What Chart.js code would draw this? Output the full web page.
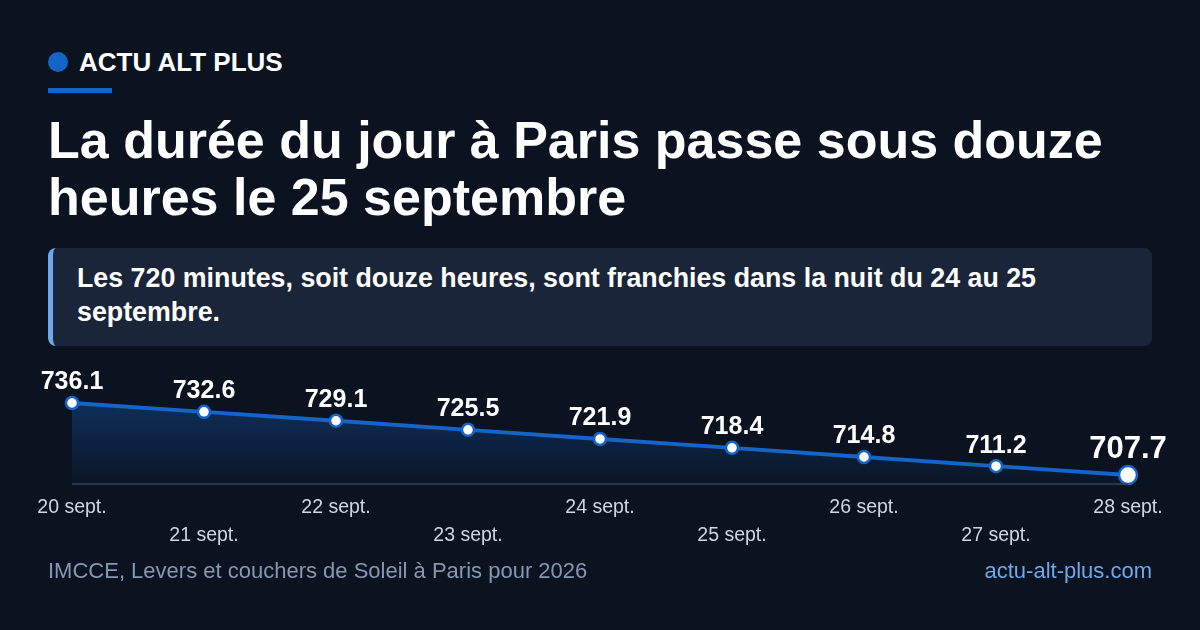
<!DOCTYPE html>
<html><head><meta charset="utf-8">
<script src="https://cdn.jsdelivr.net/npm/chart.js@4"></script>
<style>
body{margin:0;width:1200px;height:630px;background:#0b1320;font-family:"Liberation Sans",Arial,sans-serif;position:relative;overflow:hidden;color:#fff}
.brand{position:absolute;left:48px;top:48px;font-weight:bold;font-size:26px;display:flex;align-items:center;height:28px}
.brand i{display:inline-block;width:20px;height:20px;border-radius:50%;background:#1565c8;margin-right:11px}
.bar{position:absolute;left:48px;top:88px;width:64px;height:5px;background:#1565c8}
h1{position:absolute;left:48px;top:112px;margin:0;font-size:52px;line-height:57px;font-weight:bold;width:1110px}
.call{position:absolute;left:48px;top:248px;width:1104px;height:98px;background:#1a2539;border-radius:8px;border-left:5px solid #6fa8e8;box-sizing:border-box;padding:13px 60px 13px 24px;font-weight:bold;font-size:26.8px;line-height:34px}
.src{position:absolute;left:48px;top:558px;font-size:22px;color:#8797b0}
.site{position:absolute;right:48px;top:558px;font-size:22px;color:#6fa8e8}
#wrap{position:absolute;left:0;top:360px;width:1200px;height:200px}
</style></head><body>
<div class="brand"><i></i>ACTU ALT PLUS</div>
<div class="bar"></div>
<h1>La durée du jour à Paris passe sous douze heures le 25 septembre</h1>
<div class="call">Les 720 minutes, soit douze heures, sont franchies dans la nuit du 24 au 25 septembre.</div>
<div id="wrap"><canvas id="c"></canvas></div>
<div class="src">IMCCE, Levers et couchers de Soleil à Paris pour 2026</div>
<div class="site">actu-alt-plus.com</div>
<script>
const categories=["20 sept.","21 sept.","22 sept.","23 sept.","24 sept.","25 sept.","26 sept.","27 sept.","28 sept."];
const dayLength=[736.1,732.6,729.1,725.5,721.9,718.4,714.8,711.2,707.7];
const n=dayLength.length;
const overlay={id:'ov',afterDatasetsDraw(ch){
  const c=ch.ctx,a=ch.chartArea,m=ch.getDatasetMeta(0);
  c.save();
  c.strokeStyle='#3a4558';c.lineWidth=1.5;c.beginPath();c.moveTo(a.left,a.bottom);c.lineTo(a.right,a.bottom);c.stroke();
  c.textAlign='center';
  m.data.forEach((p,i)=>{
    const last=i===n-1;
    c.fillStyle='#fff';c.textBaseline='bottom';
    c.font='bold '+(last?31:25)+'px "Liberation Sans",Arial';
    c.fillText(dayLength[i].toFixed(1),p.x,p.y-(last?10:8));
    c.fillStyle='#cfd6e0';c.font='19.5px "Liberation Sans",Arial';c.textBaseline='middle';
    c.fillText(categories[i],p.x,a.bottom+(i%2?52:24));
  });
  c.restore();}};
new Chart(document.getElementById('c'),{type:'line',
 data:{labels:categories,datasets:[{data:dayLength,borderColor:'#1565c8',borderWidth:4,
  fill:'start',backgroundColor:(ctx)=>{const a=ctx.chart.chartArea;if(!a)return 'transparent';const g=ctx.chart.ctx.createLinearGradient(0,a.top,0,a.bottom);g.addColorStop(0,'rgba(21,101,200,0.35)');g.addColorStop(1,'rgba(21,101,200,0.03)');return g;},
  pointBackgroundColor:'#fff',pointBorderColor:'#1565c8',pointBorderWidth:2.5,
  pointRadius:dayLength.map((v,i)=>i===n-1?9:6),tension:0,clip:false}]},
 options:{responsive:true,maintainAspectRatio:false,animation:false,
  layout:{padding:{left:72,right:72,top:43,bottom:76}},
  plugins:{legend:{display:false},tooltip:{enabled:false}},
  scales:{x:{display:false},y:{display:false,min:704.15,max:736.1}}},
 plugins:[overlay]});
</script></body></html>
